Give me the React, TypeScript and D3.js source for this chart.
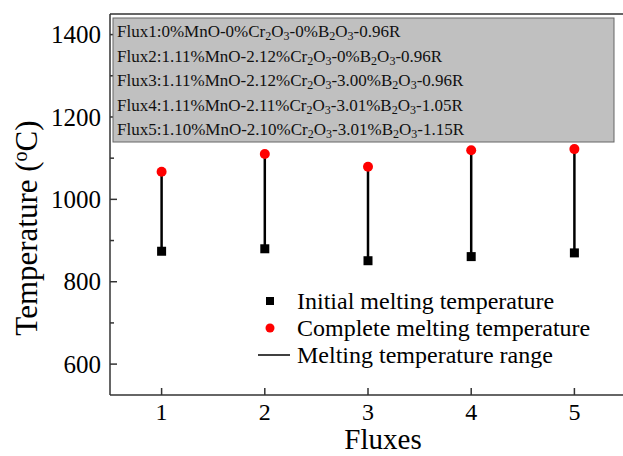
import React from 'react';
import * as d3 from 'd3';

const fluxes = [1, 2, 3, 4, 5];
const initialTemp = [874, 880, 851, 861, 870];
const completeTemp = [1067, 1110, 1079, 1119, 1122];
const yTicks = [600, 800, 1000, 1200, 1400];
const yMinorTicks = [700, 900, 1100, 1300];
const fluxLabels = [
  'Flux1:0%MnO-0%Cr_2O_3-0%B_2O_3-0.96R',
  'Flux2:1.11%MnO-2.12%Cr_2O_3-0%B_2O_3-0.96R',
  'Flux3:1.11%MnO-2.12%Cr_2O_3-3.00%B_2O_3-0.96R',
  'Flux4:1.11%MnO-2.11%Cr_2O_3-3.01%B_2O_3-1.05R',
  'Flux5:1.10%MnO-2.10%Cr_2O_3-3.01%B_2O_3-1.15R',
];
const legendLabels = ['Initial melting temperature', 'Complete melting temperature', 'Melting temperature range'];

const W = 623, H = 456;
const m = { left: 110, top: 14, right: 626, bottom: 395 };
const font = '"Liberation Serif", "Times New Roman", serif';

// split "Cr_2O_3" into normal / subscript pieces
function pieces(s: string) {
  const out: { t: string; sub: boolean }[] = [];
  const re = /_(\d)/g;
  let last = 0, mm;
  while ((mm = re.exec(s))) {
    if (mm.index > last) out.push({ t: s.slice(last, mm.index), sub: false });
    out.push({ t: mm[1], sub: true });
    last = re.lastIndex;
  }
  if (last < s.length) out.push({ t: s.slice(last), sub: false });
  return out;
}

export default function App() {
  const x = d3.scaleLinear().domain([0.5, 5.5]).range([m.left, m.right]);
  const y = d3.scaleLinear().domain([525, 1450]).range([m.bottom, m.top]);

  return (
    <svg width={W} height={H} style={{ position: 'absolute', left: 0, top: 0, background: '#fff' }} fontFamily={font}>
      {/* frame */}
      <line x1={m.left} x2={W} y1={m.top} y2={m.top} stroke="#333" strokeWidth={1.5} />
      <line x1={m.left} x2={m.left} y1={m.top} y2={m.bottom} stroke="#333" strokeWidth={1.5} />
      <line x1={m.left} x2={W} y1={m.bottom} y2={m.bottom} stroke="#333" strokeWidth={1.5} />

      {/* y ticks */}
      {yTicks.map(t => (
        <g key={t}>
          <line x1={m.left} x2={m.left + 7} y1={y(t)} y2={y(t)} stroke="#333" strokeWidth={1.5} />
          <text x={m.left - 9} y={y(t)} dy="0.35em" textAnchor="end" fontSize={25}>{t}</text>
        </g>
      ))}
      {yMinorTicks.map(t => (
        <line key={t} x1={m.left} x2={m.left + 4} y1={y(t)} y2={y(t)} stroke="#333" strokeWidth={1.5} />
      ))}

      {/* x ticks */}
      {fluxes.map(f => (
        <g key={f}>
          <line x1={x(f)} x2={x(f)} y1={m.bottom} y2={m.bottom - 7} stroke="#333" strokeWidth={1.5} />
          <text x={x(f)} y={m.bottom + 17} dy="0.35em" textAnchor="middle" fontSize={24}>{f}</text>
        </g>
      ))}

      {/* axis titles */}
      <text x={383} y={449} textAnchor="middle" fontSize={29}>Fluxes</text>
      <text transform="translate(37,228) rotate(-90)" textAnchor="middle" fontSize={31}>
        Temperature (<tspan dy={-10} fontSize={20}>o</tspan><tspan dy={10}>C)</tspan>
      </text>

      {/* ranges */}
      {fluxes.map((f, i) => (
        <line key={f} x1={x(f)} x2={x(f)} y1={y(initialTemp[i])} y2={y(completeTemp[i])} stroke="#000" strokeWidth={2.5} />
      ))}
      {fluxes.map((f, i) => (
        <rect key={f} x={x(f) - 4.5} y={y(initialTemp[i]) - 4.5} width={9} height={9} fill="#000" />
      ))}
      {fluxes.map((f, i) => (
        <circle key={f} cx={x(f)} cy={y(completeTemp[i])} r={5} fill="#ff0000" />
      ))}

      {/* composition box */}
      <rect x={113} y={18} width={501} height={124} fill="#c0c0c0" stroke="#666" strokeWidth={1} />
      {fluxLabels.map((s, i) => (
        <text key={i} x={117} y={37 + i * 24.6} fontSize={17} fill="#111">
          {pieces(s).map((p, j) => p.sub
            ? <tspan key={j} fontSize={12} baselineShift="-25%">{p.t}</tspan>
            : <tspan key={j}>{p.t}</tspan>)}
        </text>
      ))}

      {/* legend */}
      <rect x={266} y={297} width={8} height={8} fill="#000" />
      <circle cx={270} cy={328} r={4.5} fill="#ff0000" />
      <line x1={258} x2={290} y1={355} y2={355} stroke="#000" strokeWidth={1.5} />
      {legendLabels.map((l, i) => (
        <text key={l} x={297} y={301 + i * 27} dy="0.35em" fontSize={24}>{l}</text>
      ))}
    </svg>
  );
}
